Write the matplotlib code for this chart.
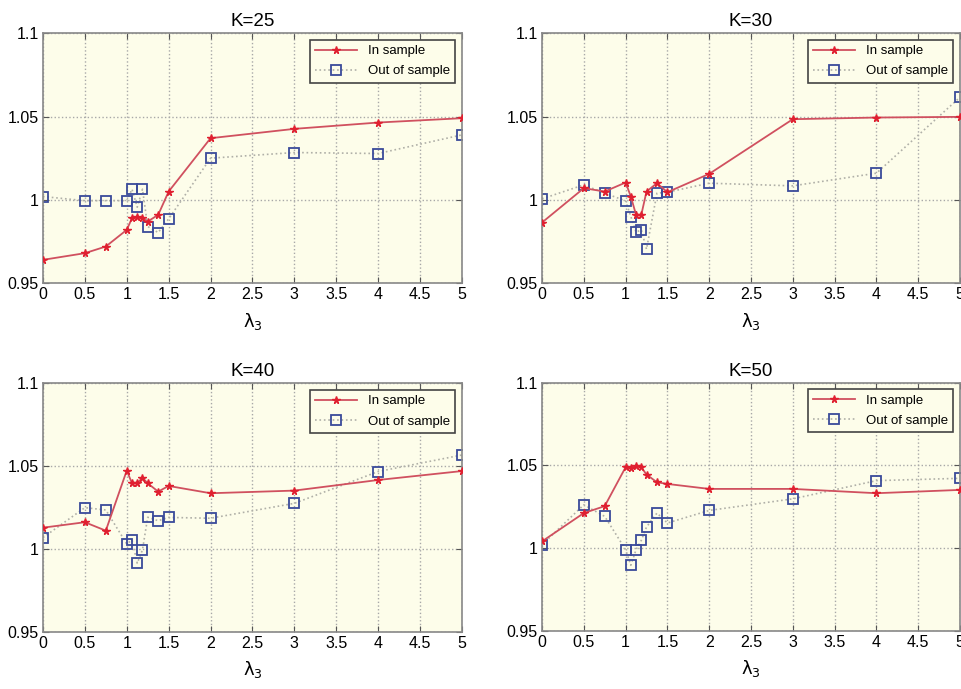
import matplotlib.pyplot as plt

plt.rcParams['font.family'] = ['Liberation Sans', 'DejaVu Sans']

lam = [0, 0.5, 0.75, 1, 1.0625, 1.125, 1.1875, 1.25, 1.375, 1.5, 2, 3, 4, 5]

# ratios per cluster count K
in_k25 = [0.964, 0.968, 0.972, 0.982, 0.989, 0.990, 0.989, 0.987, 0.991, 1.005, 1.037, 1.0426, 1.0464, 1.049]
out_k25 = [1.002, 0.9995, 0.9995, 0.9995, 1.0064, 0.9956, 1.0064, 0.984, 0.9804, 0.9886, 1.025, 1.0284, 1.0278, 1.039]

in_k30 = [0.9864, 1.007, 1.005, 1.0104, 1.002, 0.991, 0.991, 1.005, 1.010, 1.0046, 1.0156, 1.0484, 1.0494, 1.0498]
out_k30 = [1.0006, 1.009, 1.004, 0.9994, 0.990, 0.9806, 0.982, 0.9704, 1.004, 1.0046, 1.010, 1.0084, 1.016, 1.0616]

in_k40 = [1.0128, 1.0161, 1.011, 1.0473, 1.0396, 1.0396, 1.043, 1.0396, 1.0346, 1.038, 1.0336, 1.0352, 1.0416, 1.047]
out_k40 = [1.0068, 1.0249, 1.0235, 1.003, 1.0054, 0.9913, 0.9994, 1.0191, 1.017, 1.019, 1.0185, 1.0275, 1.0467, 1.0567]

in_k50 = [1.0041, 1.0212, 1.0254, 1.0489, 1.0483, 1.0499, 1.0489, 1.0445, 1.0398, 1.0388, 1.0358, 1.0358, 1.0332, 1.0352]
out_k50 = [1.0021, 1.0262, 1.0192, 0.9991, 0.9897, 0.9991, 1.0047, 1.0128, 1.0212, 1.0152, 1.0228, 1.0298, 1.0408, 1.0422]

titles = ['K=25', 'K=30', 'K=40', 'K=50']
ins = [in_k25, in_k30, in_k40, in_k50]
outs = [out_k25, out_k30, out_k40, out_k50]

xticks = [0, 0.5, 1, 1.5, 2, 2.5, 3, 3.5, 4, 4.5, 5]
xticklabels = ['0', '0.5', '1', '1.5', '2', '2.5', '3', '3.5', '4', '4.5', '5']
yticks = [0.95, 1.0, 1.05, 1.1]
yticklabels = ['0.95', '1', '1.05', '1.1']

fig = plt.figure(figsize=(9.61, 6.89), dpi=100)
positions = [
    [0.0447, 0.589, 0.436, 0.3628],
    [0.564, 0.589, 0.435, 0.3628],
    [0.0447, 0.0832, 0.436, 0.3605],
    [0.564, 0.0842, 0.435, 0.3605],
]

for pos, title, yin, yout in zip(positions, titles, ins, outs):
    ax = fig.add_axes(pos)
    ax.set_facecolor('#fdfdea')
    ax.plot(lam, yin, color='#d0505f', lw=1.3, marker='*', ms=5.5,
            mec='#e02030', mfc='#e02030', label='In sample', zorder=3)
    ax.plot(lam, yout, color='#b0b0a8', lw=1.2, ls=':', marker='s', ms=7,
            mec='#3a4a9a', mfc='none', mew=1.3, label='Out of sample', zorder=2)
    ax.set_xlim(0, 5)
    ax.set_ylim(0.95, 1.1)
    ax.set_xticks(xticks)
    ax.set_xticklabels(xticklabels)
    ax.set_yticks(yticks)
    ax.set_yticklabels(yticklabels)
    ax.tick_params(direction='in', top=True, right=True, labelsize=11.5,
                   color='#555555', length=4, pad=3)
    ax.grid(True, ls=':', color='#a8a8a8', lw=1.0)
    for s in ax.spines.values():
        s.set_color('#888888')
        s.set_linewidth(1.2)
    ax.set_title(title, fontsize=13.5, pad=5)
    ax.set_xlabel(r'$\mathrm{\lambda}_3$', fontsize=13, labelpad=6)
    leg = ax.legend(loc='upper right', fontsize=9.5, fancybox=False,
                    framealpha=1, facecolor='#fdfdea', edgecolor='#444444',
                    borderpad=0.4, labelspacing=0.6, handlelength=3.2,
                    borderaxespad=0.5)
    leg.get_frame().set_linewidth(1.2)

fig.savefig('out.png', dpi=100)
